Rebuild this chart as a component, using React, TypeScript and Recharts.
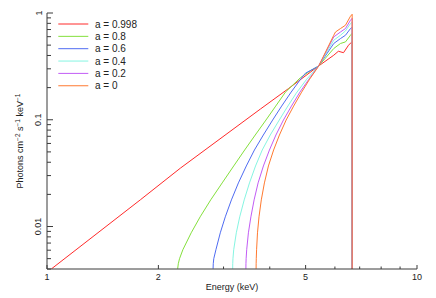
import React from 'react';
import { LineChart, Line, XAxis, YAxis, Legend } from 'recharts';

// axis ticks
const energyTicks = [1, 2, 3, 4, 5, 6, 7, 8, 9, 10];
const energyLabels = [1, 2, 5, 10];
const fluxTicks = [
  0.004, 0.005, 0.006, 0.007, 0.008, 0.009,
  0.01, 0.02, 0.03, 0.04, 0.05, 0.06, 0.07, 0.08, 0.09,
  0.1, 0.2, 0.3, 0.4, 0.5, 0.6, 0.7, 0.8, 0.9, 1,
];
const fluxLabels = [0.01, 0.1, 1];

// series (spin values)
const spinNames = ['a = 0.998', 'a = 0.8', 'a = 0.6', 'a = 0.4', 'a = 0.2', 'a = 0'];
const spinColors = ['#ff2a2a', '#84e03c', '#4f6cf2', '#86f5e2', '#c25cf5', '#ff7a30'];

// energy (keV) / photon flux per series
const e0998 = [1.027, 1.788, 2.293, 3.774, 4.5, 5.415, 5.957, 6.13, 6.33, 6.53, 6.65, 6.68, 6.68];
const f0998 = [0.004, 0.0178, 0.0352, 0.126, 0.1965, 0.318, 0.4024, 0.438, 0.425, 0.499, 0.532, 0.54, 0.004];

const e08 = [2.255, 2.264, 2.281, 2.329, 2.453, 2.594, 2.77, 2.975, 3.196, 3.422, 3.654, 3.906, 4.151, 4.41, 4.842, 5.153, 5.416, 5.957, 6.211, 6.407, 6.61, 6.68, 6.68];
const f08 = [0.00402, 0.00448, 0.00499, 0.00606, 0.00873, 0.01232, 0.01776, 0.02562, 0.03692, 0.0521, 0.07195, 0.09936, 0.1343, 0.1815, 0.248, 0.2883, 0.3176, 0.465, 0.518, 0.536, 0.6185, 0.646, 0.004];

const e06 = [2.811, 2.814, 2.823, 2.861, 2.94, 3.033, 3.151, 3.291, 3.457, 3.636, 3.843, 4.072, 4.307, 4.569, 4.847, 4.995, 5.416, 5.957, 6.211, 6.407, 6.61, 6.68, 6.68];
const f06 = [0.00402, 0.00448, 0.00499, 0.00606, 0.00873, 0.01232, 0.01776, 0.02562, 0.03692, 0.0521, 0.07195, 0.09936, 0.1343, 0.1815, 0.2401, 0.2732, 0.3176, 0.518, 0.576, 0.6185, 0.715, 0.735, 0.004];

const e04 = [3.176, 3.177, 3.181, 3.196, 3.248, 3.318, 3.412, 3.526, 3.661, 3.817, 4.012, 4.243, 4.459, 4.717, 5.035, 5.416, 5.957, 6.211, 6.407, 6.61, 6.68, 6.68];
const f04 = [0.00402, 0.00448, 0.00499, 0.00606, 0.00873, 0.01232, 0.01776, 0.02562, 0.03692, 0.0521, 0.07195, 0.09936, 0.1314, 0.1776, 0.2401, 0.3176, 0.556, 0.6185, 0.679, 0.796, 0.819, 0.004];

const e02 = [3.448, 3.449, 3.453, 3.465, 3.502, 3.557, 3.629, 3.72, 3.845, 3.992, 4.156, 4.355, 4.578, 4.826, 5.105, 5.416, 5.957, 6.211, 6.407, 6.61, 6.68, 6.68];
const f02 = [0.00402, 0.00448, 0.00499, 0.00606, 0.00873, 0.01232, 0.01776, 0.02562, 0.03692, 0.0521, 0.07195, 0.09936, 0.1343, 0.1815, 0.2401, 0.3176, 0.597, 0.664, 0.715, 0.855, 0.892, 0.004];

const e00 = [3.674, 3.675, 3.678, 3.685, 3.706, 3.741, 3.795, 3.869, 3.967, 4.097, 4.248, 4.429, 4.641, 4.878, 5.127, 5.422, 5.957, 6.021, 6.211, 6.407, 6.61, 6.68, 6.68];
const f00 = [0.00402, 0.00448, 0.00499, 0.00606, 0.00873, 0.01232, 0.01776, 0.02562, 0.03692, 0.0521, 0.07195, 0.09936, 0.1343, 0.1815, 0.2401, 0.3176, 0.6185, 0.664, 0.715, 0.768, 0.932, 0.973, 0.004];

const zip = (es: number[], fs: number[]) => es.map((e, i) => ({ e, f: fs[i] }));
const seriesData = [zip(e0998, f0998), zip(e08, f08), zip(e06, f06), zip(e04, f04), zip(e02, f02), zip(e00, f00)];

const FONT = '"Liberation Sans", Arial, Helvetica, sans-serif';
const AXIS = '#3a3a3a';

const BottomTick = (props: any) => {
  const { x, y, payload } = props;
  const major = energyLabels.includes(payload.value);
  return (
    <g>
      <line x1={x} y1={y} x2={x} y2={y - (major ? 4 : 2.5)} stroke={AXIS} />
      {major && (
        <text x={x} y={y + 11} textAnchor="middle" fontSize={9} fontFamily={FONT} fill="#222">
          {payload.value}
        </text>
      )}
    </g>
  );
};

const TopTick = (props: any) => {
  const { x, y, payload } = props;
  const major = energyLabels.includes(payload.value);
  return <line x1={x} y1={y} x2={x} y2={y + (major ? 4 : 2.5)} stroke={AXIS} />;
};

const LeftTick = (props: any) => {
  const { x, y, payload } = props;
  const major = fluxLabels.includes(payload.value);
  return (
    <g>
      <line x1={x} y1={y} x2={x + (major ? 6 : 4)} y2={y} stroke={AXIS} />
      {major && (
        <text
          x={x - 5.5}
          y={y}
          transform={`rotate(-90, ${x - 5.5}, ${y})`}
          textAnchor="middle"
          fontSize={9}
          fontFamily={FONT}
          fill="#222"
        >
          {payload.value}
        </text>
      )}
    </g>
  );
};

const RightTick = (props: any) => {
  const { x, y, payload } = props;
  const major = fluxLabels.includes(payload.value);
  return <line x1={x} y1={y} x2={x - (major ? 6 : 4)} y2={y} stroke={AXIS} />;
};

const YTitle = () => (
  <text
    x={23}
    y={141}
    transform="rotate(-90, 23, 141)"
    textAnchor="middle"
    fontSize={9}
    fontFamily={FONT}
    fill="#222"
  >
    Photons cm
    <tspan dy={-3} fontSize={6.5}>−2</tspan>
    <tspan dy={3}> s</tspan>
    <tspan dy={-3} fontSize={6.5}>−1</tspan>
    <tspan dy={3}> keV</tspan>
    <tspan dy={-3} fontSize={6.5}>−1</tspan>
  </text>
);

const LegendBox = () => (
  <svg width={110} height={80}>
    {spinNames.map((name, i) => (
      <g key={name}>
        <line x1={8.3} x2={38.3} y1={8 + i * 12.35} y2={8 + i * 12.35} stroke={spinColors[i]} strokeWidth={1} />
        <text x={45} y={8 + i * 12.35 + 3.5} fontSize={10} fontFamily={FONT} fill="#222">
          {name}
        </text>
      </g>
    ))}
  </svg>
);

export default function App() {
  return (
    <div style={{ position: 'fixed', left: 0, top: 0, width: 436, height: 298, background: '#fff' }}>
      <LineChart width={436} height={298} margin={{ top: 13, right: 19, bottom: 0, left: 0 }}>
        <XAxis
          xAxisId="b"
          dataKey="e"
          type="number"
          scale="log"
          domain={[1, 10]}
          allowDataOverflow
          ticks={energyTicks}
          interval={0}
          height={29}
          tickSize={0}
          tickMargin={0}
          tick={<BottomTick />}
          axisLine={{ stroke: AXIS }}
          label={{
            value: 'Energy (keV)',
            position: 'insideBottom',
            offset: 0,
            dy: -8,
            fontSize: 9,
            fontFamily: FONT,
            fill: '#222',
          }}
        />
        <XAxis
          xAxisId="t"
          orientation="top"
          dataKey="e"
          type="number"
          scale="log"
          domain={[1, 10]}
          allowDataOverflow
          ticks={energyTicks}
          interval={0}
          height={0}
          tickSize={0}
          tickMargin={0}
          tick={<TopTick />}
          axisLine={{ stroke: AXIS }}
        />
        <YAxis
          yAxisId="l"
          dataKey="f"
          type="number"
          scale="log"
          domain={[0.004, 1]}
          allowDataOverflow
          ticks={fluxTicks}
          interval={0}
          width={47}
          tickSize={0}
          tickMargin={0}
          tick={<LeftTick />}
          axisLine={{ stroke: AXIS }}
          label={<YTitle />}
        />
        <YAxis
          yAxisId="r"
          orientation="right"
          dataKey="f"
          type="number"
          scale="log"
          domain={[0.004, 1]}
          allowDataOverflow
          ticks={fluxTicks}
          interval={0}
          width={0}
          tickSize={0}
          tickMargin={0}
          tick={<RightTick />}
          axisLine={{ stroke: AXIS }}
        />
        <Legend
          layout="vertical"
          align="center"
          verticalAlign="middle"
          content={<LegendBox />}
          wrapperStyle={{ left: 50, top: 16, width: 110, height: 80 }}
        />
        {seriesData.map((d, i) => (
          <Line
            key={spinNames[i]}
            xAxisId="b"
            yAxisId="l"
            data={d}
            dataKey="f"
            name={spinNames[i]}
            type="linear"
            stroke={spinColors[i]}
            strokeWidth={1}
            dot={false}
            activeDot={false}
            isAnimationActive={false}
          />
        ))}
      </LineChart>
    </div>
  );
}
